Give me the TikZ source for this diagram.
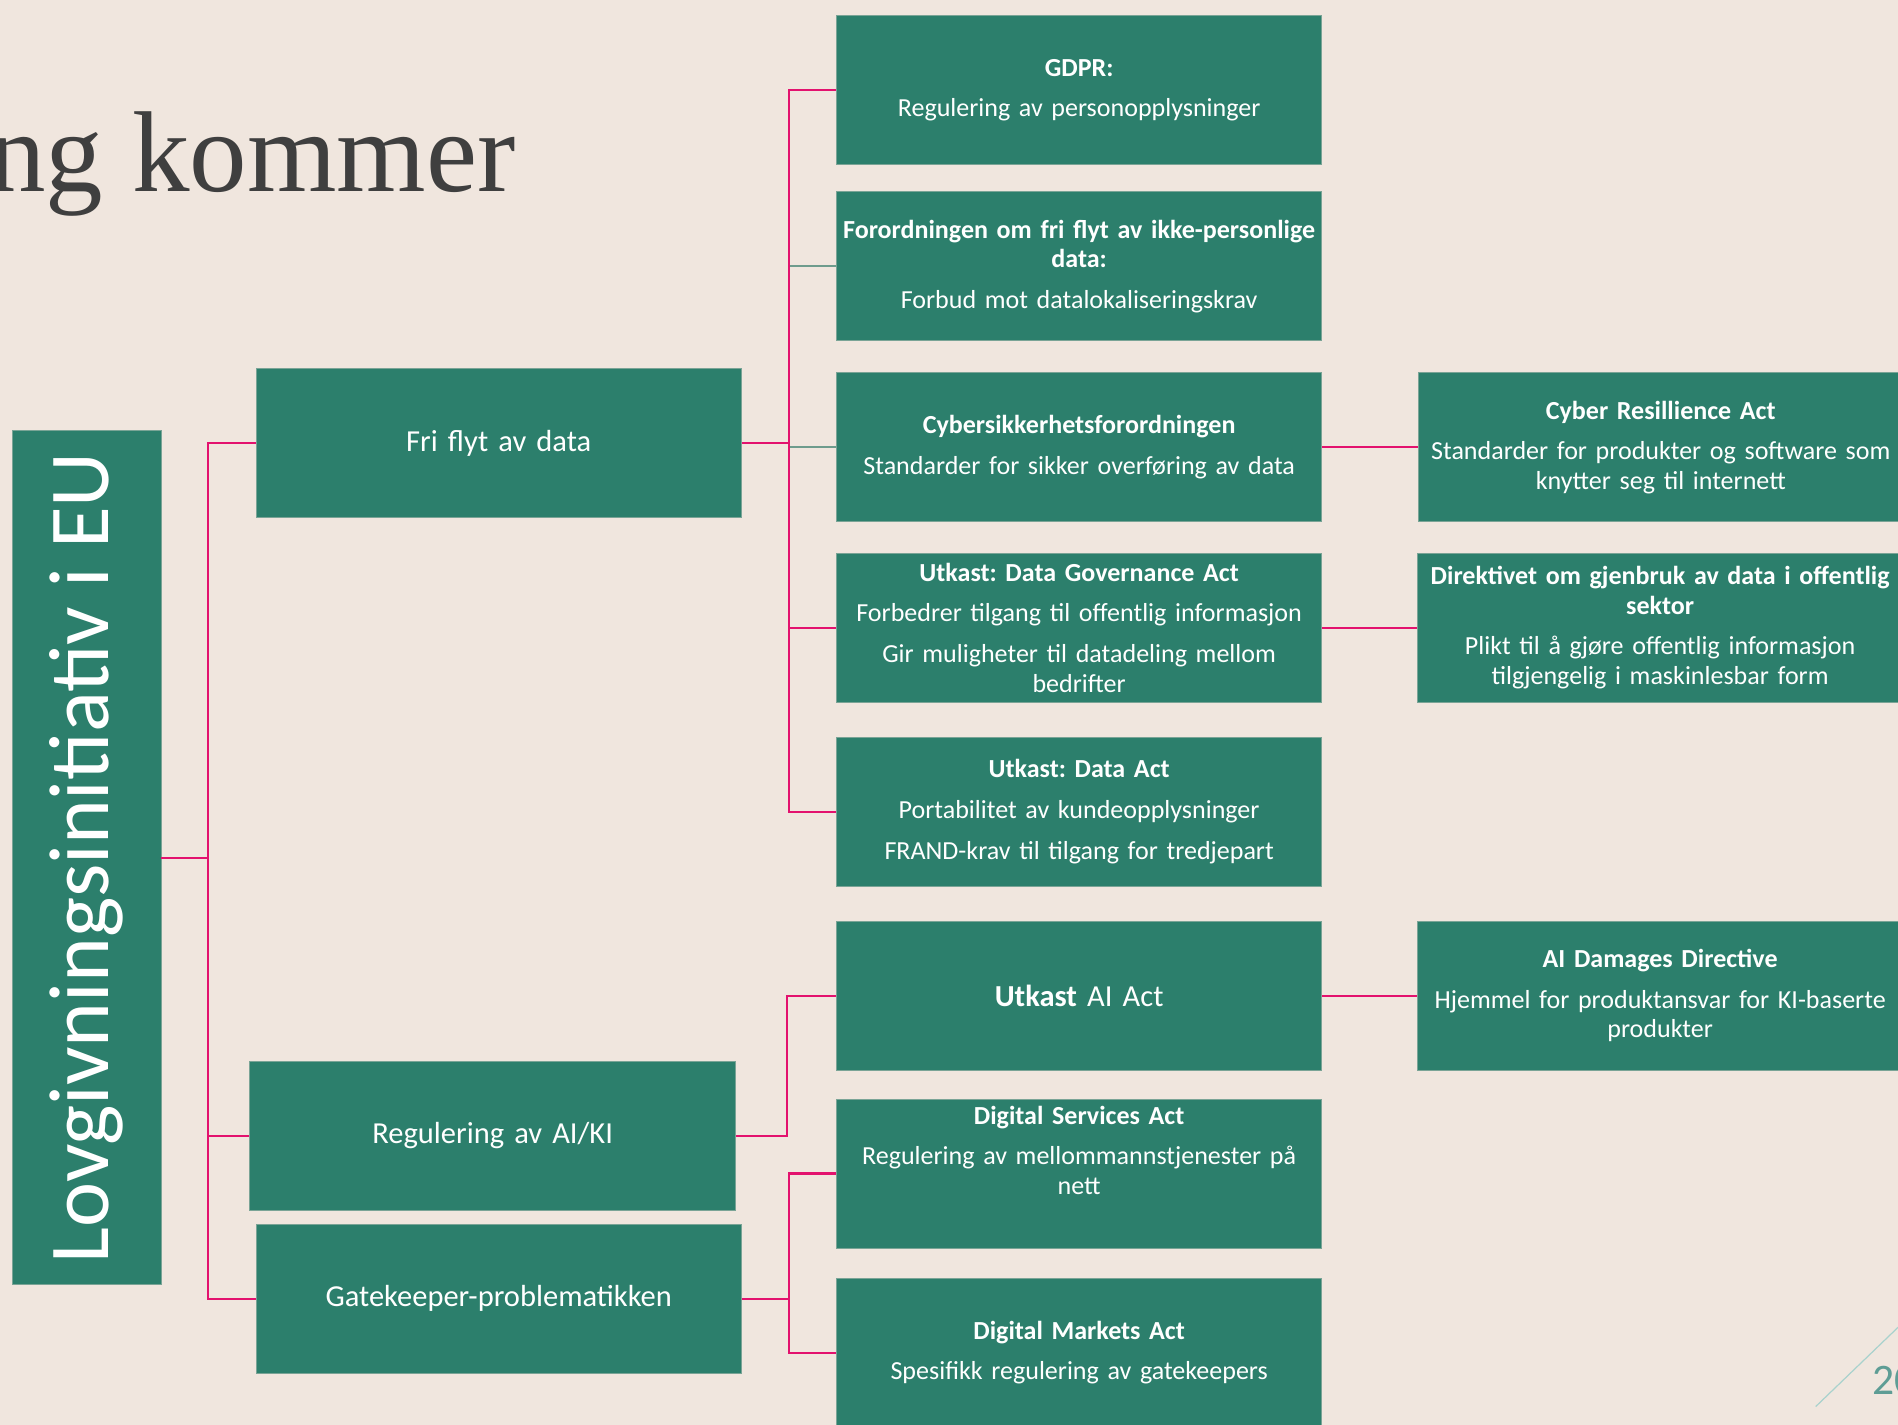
\documentclass[tikz,border=0pt]{standalone}
\usepackage{graphicx}
\usepackage{fontspec}
\setmainfont{Carlito}
\newfontfamily\titlefont{Liberation Serif}
\frenchspacing
\definecolor{bg}{HTML}{F0E6DE}
\definecolor{boxgreen}{HTML}{2C7F6C}
\definecolor{boxedge}{HTML}{7AA496}
\definecolor{linkpink}{HTML}{E3126E}
\definecolor{linkgray}{HTML}{6E9C8D}
\definecolor{titlegray}{HTML}{3F3F3F}
\definecolor{pagenum}{HTML}{5E9D95}
\definecolor{pageline}{HTML}{A9D2CD}

\begin{document}
\begin{tikzpicture}[x=1pt,y=-1pt]
\tikzstyle{box}=[draw=boxedge,line width=0.8pt,fill=boxgreen,text=white,minimum width=401pt,minimum height=123pt,text width=396pt,align=center,inner sep=0pt,font=\fontsize{21.5}{24.5}\selectfont]
\tikzstyle{mid}=[box,font=\fontsize{25.2}{30}\selectfont]
\tikzstyle{link}=[draw=linkpink,line width=1.8pt]
\tikzstyle{stub}=[draw=linkgray,line width=1.8pt]

\clip (0,0) rectangle (1568,1177);
\fill[bg] (0,0) rectangle (1568,1177);

\node[text=titlegray,font=\titlefont\fontsize{95}{100}\selectfont,anchor=base east,inner sep=0pt] at (426,158) (title) {ng kommer};

% root
\node[draw=boxedge,line width=0.8pt,fill=boxgreen,text=white,minimum width=123pt,minimum height=705pt,inner sep=0pt,font=\fontsize{70.5}{72}\selectfont] at (71.5,708.5) (root) {\rotatebox{90}{Lovgivningsinitiativ i EU}};

% level 1
\node[mid] at (412,366) (fri) {Fri flyt av data};
\node[mid] at (407,938.5) (ai) {Regulering av AI/KI};
\node[mid] at (412,1073) (gate) {Gatekeeper-problematikken};

% level 2
\node[box] at (891.5,74.5) (gdpr) {{\bfseries GDPR:}\\[9pt]Regulering av personopplysninger};
\node[box] at (891.5,220) (forord) {{\bfseries Forordningen om fri flyt av ikke-personlige\\ data:}\\[9pt]Forbud mot datalokaliseringskrav};
\node[box] at (891.5,369.5) (cyber) {{\bfseries Cybersikkerhetsforordningen}\\[9pt]Standarder for sikker overføring av data};
\node[box] at (891.5,518.5) (dga) {{\bfseries Utkast: Data Governance Act}\\[9pt]Forbedrer tilgang til offentlig informasjon\\[9pt]Gir muligheter til datadeling mellom\\ bedrifter};
\node[box] at (891.5,670.5) (dact) {{\bfseries Utkast: Data Act}\\[9pt]Portabilitet av kundeopplysninger\\[9pt]FRAND-krav til tilgang for tredjepart};
\node[mid] at (891.5,822.5) (aiact) {{\bfseries Utkast} AI Act};
\node[box] at (891.5,969.5) (dsa) {{\bfseries Digital Services Act}\\[9pt]Regulering av mellommannstjenester på\\ nett\\[14pt]~};
\node[box] at (891.5,1117.5) (dma) {{\bfseries Digital Markets Act}\\[9pt]Spesifikk regulering av gatekeepers};

% level 3
\node[box] at (1372,369.5) (cra) {{\bfseries Cyber Resillience Act}\\[9pt]Standarder for produkter og software som\\ knytter seg til internett};
\node[box] at (1371.5,518.5) (reuse) {{\bfseries Direktivet om gjenbruk av data i offentlig\\ sektor}\\[9pt]Plikt til å gjøre offentlig informasjon\\ tilgjengelig i maskinlesbar form};
\node[box] at (1371.5,822.5) (damage) {{\bfseries AI Damages Directive}\\[9pt]Hjemmel for produktansvar for KI-baserte\\ produkter};

\coordinate (j0) at (172,708.5);
\coordinate (j1) at (652,366);
\coordinate (j2) at (650,938.5);
\coordinate (j3) at (652,1073);

\draw[link] (root.east) -- (j0);
\draw[link] (j0) |- (fri.west);
\draw[link] (j0) |- (ai.west);
\draw[link] (j0) |- (gate.west);

\draw[stub] (j1) |- (forord.west);
\draw[stub] (j1) |- (cyber.west);
\draw[link] (fri.east) -- (j1);
\draw[link] (j1) |- (gdpr.west);
\draw[link] (j1) |- (dga.west);
\draw[link] (j1) |- (dact.west);

\draw[link] (ai.east) -- (j2) |- (aiact.west);

\draw[link] (gate.east) -- (j3);
\draw[link] (j3) |- (dsa.west);
\draw[link] (j3) |- (dma.west);

\draw[link] (cyber.east) -- (cra.west);
\draw[link] (dga.east) -- (reuse.west);
\draw[link] (aiact.east) -- (damage.west);

% page number
\draw[pageline,line width=1pt] (1500,1162) -- (1580,1085);
\node[text=pagenum,font=\fontsize{36}{38}\selectfont,anchor=base west,inner sep=0pt] at (1547,1152) (page) {20};
\end{tikzpicture}
\end{document}
